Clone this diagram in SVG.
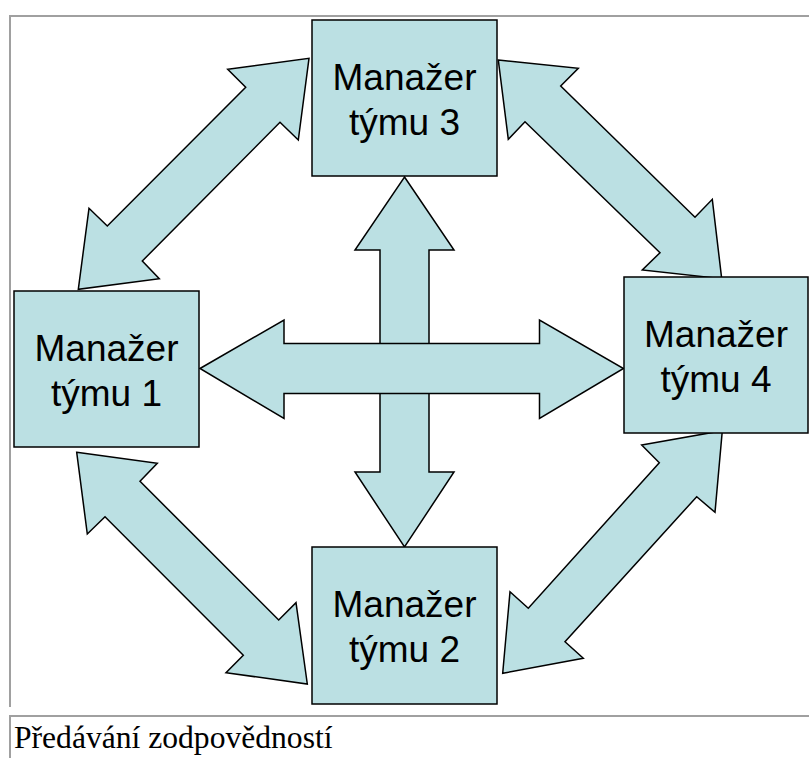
<svg xmlns="http://www.w3.org/2000/svg" width="809" height="758" viewBox="0 0 809 758">
  <style>
    .frame { stroke: #a0a0a0; stroke-width: 2; fill: none; }
    .shape { fill: #bbe0e3; stroke: #000000; stroke-width: 1.5; stroke-linejoin: miter; }
    .label { font-family: "Liberation Sans", Arial, sans-serif; font-size: 37px; fill: #000000; text-anchor: middle; }
    .caption { font-family: "Liberation Serif", "Times New Roman", serif; font-size: 31.6px; fill: #000000; }
  </style>

  <rect width="809" height="758" fill="#ffffff"/>

  <!-- table-like frame around the figure and its caption -->
  <g id="frame">
    <path class="frame" d="M10 707 V16 H809"/>
    <path class="frame" d="M10 758 V716 H809"/>
  </g>

  <!-- block arrows between the team managers -->
  <g id="connectors">
    <!-- vertical double arrow: team 3 <-> team 2 -->
    <polygon class="shape" points="404.5,177 454,250 429,250 429,472 454,472 404.5,547 355,472 380,472 380,250 355,250"/>
    <!-- horizontal double arrow: team 1 <-> team 4 -->
    <polygon class="shape" points="200,368.5 284,320 284,343.5 539.5,343.5 539.5,320 623.5,368.5 539.5,418.5 539.5,393.5 284,393.5 284,418.5"/>
    <!-- team 1 <-> team 3 -->
    <polygon class="shape" points="309,58.3 298.3,140 280,122.3 142.3,261 159.3,278.7 78.3,289.3 89,208.3 107.3,226 245.7,87.3 227.7,69.3"/>
    <!-- team 3 <-> team 4 -->
    <polygon class="shape" points="498.3,60 578.3,68.3 560.7,86 695,217.3 712.3,199.3 721.7,278.7 642.3,270 660,252.7 525,121.7 508.3,139.3"/>
    <!-- team 1 <-> team 2 -->
    <polygon class="shape" points="76.7,452.3 157.3,463.3 140,481.3 278.7,620 296,602.7 307.3,684 226,672.7 243.3,655.3 105,516.7 87.3,534"/>
    <!-- team 4 <-> team 2 -->
    <polygon class="shape" points="722.3,430.7 715,512.3 696.7,496.7 565,641.7 583.3,658.3 502.7,673.3 510,591.7 528.3,608.3 659.3,462.7 641.7,445"/>
  </g>

  <g id="team3">
    <rect class="shape" x="312" y="20" width="185" height="156"/>
    <text class="label" x="404.5" y="90">Manažer</text>
    <text class="label" x="404.5" y="135">týmu 3</text>
  </g>

  <g id="team1">
    <rect class="shape" x="14" y="291" width="185" height="156"/>
    <text class="label" x="106.5" y="361">Manažer</text>
    <text class="label" x="106.5" y="406">týmu 1</text>
  </g>

  <g id="team4">
    <rect class="shape" x="624" y="277" width="184" height="156"/>
    <text class="label" x="716" y="347">Manažer</text>
    <text class="label" x="716" y="392">týmu 4</text>
  </g>

  <g id="team2">
    <rect class="shape" x="312" y="547" width="185" height="157"/>
    <text class="label" x="404.5" y="617">Manažer</text>
    <text class="label" x="404.5" y="662">týmu 2</text>
  </g>

  <text class="caption" x="14" y="747.5">Předávání zodpovědností</text>
</svg>
